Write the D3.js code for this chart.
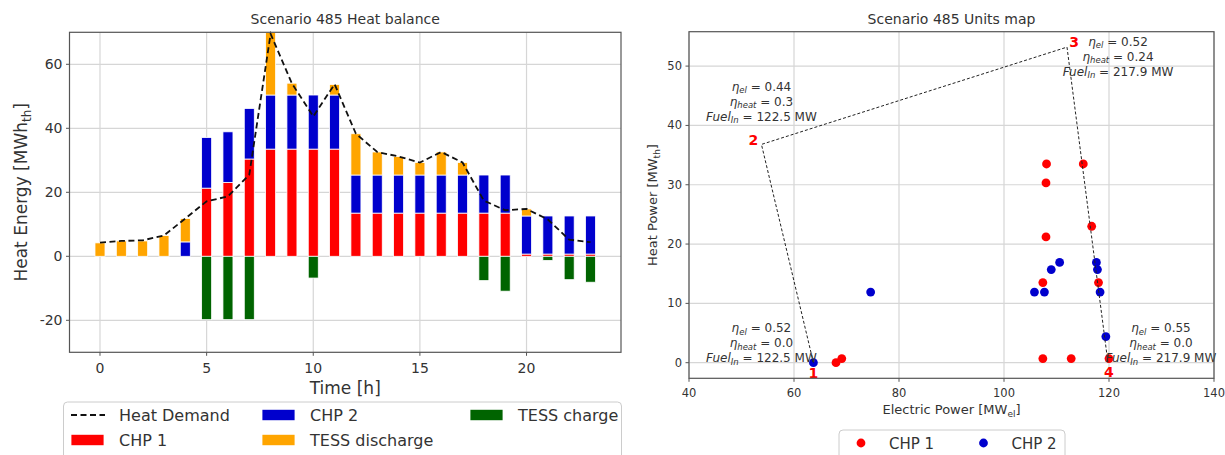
<!DOCTYPE html>
<html lang="en">
<head>
<meta charset="UTF-8">
<title>Scenario 485</title>
<script src="https://d3js.org/d3.v7.min.js"></script>
<style>
  body { margin: 0; background: #fff; }
  text { font-family: "DejaVu Sans", sans-serif; fill: #333; }
</style>
</head>
<body>
<svg id="chart" width="1225" height="455"></svg>
<script>
// ---- heat balance data (MWh_th per hour) ----
const hours = d3.range(24);
const chp1 = [0, 0, 0, 0, 0, 21.3, 23.1, 30.4, 33.5, 33.5, 33.5, 33.5,
              13.5, 13.5, 13.5, 13.5, 13.5, 13.5, 13.5, 13.5, 0.7, 0.7, 0.7, 0.7];
const chp2 = [0, 0, 0, 0, 4.5, 15.8, 15.8, 15.8, 16.9, 16.9, 16.9, 16.9,
              11.9, 11.9, 11.9, 11.9, 11.9, 11.9, 11.9, 11.9, 11.9, 11.9, 11.9, 11.9];
const tessDischarge = [4.2, 4.8, 4.8, 6.5, 7.3, 0, 0, 0, 19.6, 3.7, 0, 3.3,
                       12.9, 7.2, 5.8, 3.9, 7.2, 3.9, 0, 0, 2.2, 0, 0, 0];
const tessCharge = [0, 0, 0, 0, 0, -19.8, -19.8, -19.8, 0, 0, -6.8, 0,
                    0, 0, 0, 0, 0, 0, -7.6, -10.9, 0, -1.3, -7.3, -8.1];
const heatDemand = [4.3, 4.8, 5.0, 6.5, 11.8, 17.2, 18.7, 25.5, 69.5, 54.0, 43.7, 53.8,
                    38.3, 32.6, 31.2, 29.3, 32.6, 29.3, 17.4, 14.4, 14.8, 11.5, 5.2, 4.4];
const leftXTicks = [0, 5, 10, 15, 20];
const leftYTicks = [-20, 0, 20, 40, 60];

// ---- units map data ----
const chp1El   = [108.1, 115.1, 108.0, 116.7, 108.0, 107.4, 118.0, 107.4, 112.8, 120.0, 68.0, 69.1];
const chp1Heat = [33.5, 33.5, 30.3, 23.0, 21.2, 13.5, 13.5, 0.7, 0.7, 0.7, 0.0, 0.7];
const chp2El   = [63.7, 74.6, 105.8, 107.7, 118.3, 109.0, 110.6, 117.6, 117.8, 119.4];
const chp2Heat = [0.0, 11.9, 11.9, 11.9, 11.9, 15.7, 16.9, 16.9, 15.7, 4.4];
const cornerEl   = [63.7, 53.8, 112.0, 119.8];
const cornerHeat = [0.0, 36.8, 53.2, 0.0];
const cornerEtaEl   = ["0.52", "0.44", "0.52", "0.55"];
const cornerEtaHeat = ["0.0", "0.3", "0.24", "0.0"];
const cornerFuel    = ["122.5", "122.5", "217.9", "217.9"];
const rightXTicks = [40, 60, 80, 100, 120, 140];
const rightYTicks = [0, 10, 20, 30, 40, 50];

const colors = { chp1: "#ff0000", chp2: "#0000cd", dis: "#ffa500", chg: "#006400" };
const gridColor = "#d6d6d6";
const spineColor = "#555";

const svg = d3.select("#chart");

// ======================= left: heat balance =======================
const L = { left: 69.5, right: 621, top: 32.3, bottom: 352.3 };
const x = d3.scaleLinear().domain([-1.43, 24.43]).range([L.left, L.right]);
const y = d3.scaleLinear().domain([-30, 70]).range([L.bottom, L.top]);
const bw = x(0.47) - x(0);

const lg = svg.append("g");

lg.selectAll(".vg").data(leftXTicks).enter().append("line")
    .attr("x1", d => x(d)).attr("x2", d => x(d))
    .attr("y1", L.top).attr("y2", L.bottom)
    .attr("stroke", gridColor).attr("stroke-width", 1.2);
lg.selectAll(".hg").data(leftYTicks).enter().append("line")
    .attr("x1", L.left).attr("x2", L.right)
    .attr("y1", d => y(d)).attr("y2", d => y(d))
    .attr("stroke", gridColor).attr("stroke-width", 1.2);

// stacked bars
const stacks = [
    { vals: chp1, base: hours.map(() => 0), color: colors.chp1 },
    { vals: chp2, base: chp1, color: colors.chp2 },
    { vals: tessDischarge, base: hours.map(i => chp1[i] + chp2[i]), color: colors.dis },
    { vals: tessCharge, base: hours.map(() => 0), color: colors.chg }
];
stacks.forEach(s => {
    lg.append("g").selectAll("rect")
        .data(hours.filter(i => s.vals[i] !== 0))
        .enter().append("rect")
        .attr("x", i => x(i) - bw / 2)
        .attr("width", bw)
        .attr("y", i => y(Math.max(s.base[i], s.base[i] + s.vals[i])))
        .attr("height", i => Math.abs(y(s.base[i]) - y(s.base[i] + s.vals[i])))
        .attr("fill", s.color)
        .attr("stroke", "#fff")
        .attr("stroke-width", 0.8);
});

// heat demand
lg.append("path")
    .datum(hours)
    .attr("fill", "none")
    .attr("stroke", "#111")
    .attr("stroke-width", 1.8)
    .attr("stroke-dasharray", "6,3.5")
    .attr("d", d3.line().x(i => x(i)).y(i => y(heatDemand[i])));

// frame and ticks
lg.append("rect")
    .attr("x", L.left).attr("y", L.top)
    .attr("width", L.right - L.left).attr("height", L.bottom - L.top)
    .attr("fill", "none").attr("stroke", spineColor).attr("stroke-width", 1.2);
lg.selectAll(".yt").data(leftYTicks).enter().append("line")
    .attr("x1", L.left - 3.5).attr("x2", L.left)
    .attr("y1", d => y(d)).attr("y2", d => y(d))
    .attr("stroke", spineColor);
lg.selectAll(".ytl").data(leftYTicks).enter().append("text")
    .attr("x", L.left - 7).attr("y", d => y(d) + 5)
    .attr("text-anchor", "end").attr("font-size", 14)
    .text(d => d);
lg.selectAll(".xt").data(leftXTicks).enter().append("line")
    .attr("x1", d => x(d)).attr("x2", d => x(d))
    .attr("y1", L.bottom).attr("y2", L.bottom + 3.5)
    .attr("stroke", spineColor);
lg.selectAll(".xtl").data(leftXTicks).enter().append("text")
    .attr("x", d => x(d)).attr("y", L.bottom + 21)
    .attr("text-anchor", "middle").attr("font-size", 14)
    .text(d => d);

lg.append("text")
    .attr("x", (L.left + L.right) / 2).attr("y", 24)
    .attr("text-anchor", "middle").attr("font-size", 14)
    .text("Scenario 485 Heat balance");
lg.append("text")
    .attr("x", (L.left + L.right) / 2).attr("y", 394)
    .attr("text-anchor", "middle").attr("font-size", 17)
    .text("Time [h]");
const yl = lg.append("text")
    .attr("transform", `translate(27,${(L.top + L.bottom) / 2}) rotate(-90)`)
    .attr("text-anchor", "middle").attr("font-size", 17);
yl.append("tspan").text("Heat Energy [MWh");
yl.append("tspan").attr("font-size", 12).attr("dy", 4).text("th");
yl.append("tspan").attr("dy", -4).text("]");

// legend
const leg = lg.append("g");
leg.append("rect")
    .attr("x", 63.5).attr("y", 402).attr("width", 558).attr("height", 70)
    .attr("rx", 4).attr("fill", "#fff").attr("stroke", "#ccc");
const legItems = [
    { label: "Heat Demand", type: "line", col: 0, row: 0 },
    { label: "CHP 1", color: colors.chp1, col: 0, row: 1 },
    { label: "CHP 2", color: colors.chp2, col: 1, row: 0 },
    { label: "TESS discharge", color: colors.dis, col: 1, row: 1 },
    { label: "TESS charge", color: colors.chg, col: 2, row: 0 }
];
const colX = [71, 262, 470];
const rowY = [415, 440];
legItems.forEach(it => {
    const hx = colX[it.col], hy = rowY[it.row];
    if (it.type === "line") {
        leg.append("line")
            .attr("x1", hx).attr("x2", hx + 34).attr("y1", hy).attr("y2", hy)
            .attr("stroke", "#111").attr("stroke-width", 1.8)
            .attr("stroke-dasharray", "6,3.5");
    } else {
        leg.append("rect")
            .attr("x", hx).attr("y", hy - 5.7).attr("width", 33).attr("height", 11.4)
            .attr("fill", it.color).attr("stroke", "#fff").attr("stroke-width", 0.8);
    }
    leg.append("text")
        .attr("x", hx + 48).attr("y", hy + 6)
        .attr("font-size", 16)
        .text(it.label);
});

// ======================= right: units map =======================
const R = { left: 689, right: 1214, top: 31.7, bottom: 378.3 };
const xr = d3.scaleLinear().domain([40, 140]).range([R.left, R.right]);
const yr = d3.scaleLinear().domain([-2.63, 55.8]).range([R.bottom, R.top]);

const rg = svg.append("g");
rg.selectAll(".vg").data(rightXTicks).enter().append("line")
    .attr("x1", d => xr(d)).attr("x2", d => xr(d))
    .attr("y1", R.top).attr("y2", R.bottom)
    .attr("stroke", gridColor).attr("stroke-width", 1.2);
rg.selectAll(".hg").data(rightYTicks).enter().append("line")
    .attr("x1", R.left).attr("x2", R.right)
    .attr("y1", d => yr(d)).attr("y2", d => yr(d))
    .attr("stroke", gridColor).attr("stroke-width", 1.2);

rg.append("g").selectAll("circle")
    .data(d3.range(chp1El.length)).enter().append("circle")
    .attr("cx", i => xr(chp1El[i])).attr("cy", i => yr(chp1Heat[i]))
    .attr("r", 4.4).attr("fill", colors.chp1);
rg.append("g").selectAll("circle")
    .data(d3.range(chp2El.length)).enter().append("circle")
    .attr("cx", i => xr(chp2El[i])).attr("cy", i => yr(chp2Heat[i]))
    .attr("r", 4.4).attr("fill", colors.chp2);

// operating region
rg.append("path")
    .datum(d3.range(cornerEl.length))
    .attr("fill", "none").attr("stroke", "#222").attr("stroke-width", 1)
    .attr("stroke-dasharray", "3,2")
    .attr("d", d3.line().x(i => xr(cornerEl[i])).y(i => yr(cornerHeat[i])));

// corner numbers and annotations (offsets in px)
const numOff = [[0, 10], [-8, -4], [7, -5], [1, 9]];
const annOff = [[-52, -35], [0, -58], [51, -6], [53, -35]];
function mathLine(g, cx, cy, sym, sub, rest) {
    const t = g.append("text").attr("x", cx).attr("y", cy + 4.5)
        .attr("text-anchor", "middle").attr("font-size", 12);
    t.append("tspan").attr("font-style", "italic").text(sym);
    t.append("tspan").attr("font-style", "italic").attr("font-size", 8.5).attr("dy", 2.5).text(sub);
    t.append("tspan").attr("dy", -2.5).text(" = " + rest);
}
cornerEl.forEach((e, i) => {
    const px = xr(e), py = yr(cornerHeat[i]);
    rg.append("text")
        .attr("x", px + numOff[i][0]).attr("y", py + numOff[i][1] + 5)
        .attr("text-anchor", "middle").attr("font-size", 14).attr("font-weight", "bold")
        .style("fill", "#ff0000")
        .text(i + 1);
    const ax = px + annOff[i][0], ay = py + annOff[i][1];
    mathLine(rg, ax, ay, "η", "el", cornerEtaEl[i]);
    mathLine(rg, ax, ay + 15, "η", "heat", cornerEtaHeat[i]);
    mathLine(rg, ax, ay + 30, "Fuel", "In", cornerFuel[i] + " MW");
});

rg.append("rect")
    .attr("x", R.left).attr("y", R.top)
    .attr("width", R.right - R.left).attr("height", R.bottom - R.top)
    .attr("fill", "none").attr("stroke", spineColor).attr("stroke-width", 1.2);
rg.selectAll(".yt").data(rightYTicks).enter().append("line")
    .attr("x1", R.left - 3.5).attr("x2", R.left)
    .attr("y1", d => yr(d)).attr("y2", d => yr(d))
    .attr("stroke", spineColor);
rg.selectAll(".ytl").data(rightYTicks).enter().append("text")
    .attr("x", R.left - 7).attr("y", d => yr(d) + 4)
    .attr("text-anchor", "end").attr("font-size", 11.5)
    .text(d => d);
rg.selectAll(".xt").data(rightXTicks).enter().append("line")
    .attr("x1", d => xr(d)).attr("x2", d => xr(d))
    .attr("y1", R.bottom).attr("y2", R.bottom + 3.5)
    .attr("stroke", spineColor);
rg.selectAll(".xtl").data(rightXTicks).enter().append("text")
    .attr("x", d => xr(d)).attr("y", R.bottom + 19)
    .attr("text-anchor", "middle").attr("font-size", 11.5)
    .text(d => d);

rg.append("text")
    .attr("x", (R.left + R.right) / 2).attr("y", 24)
    .attr("text-anchor", "middle").attr("font-size", 14)
    .text("Scenario 485 Units map");
const xl2 = rg.append("text")
    .attr("x", (R.left + R.right) / 2).attr("y", 414)
    .attr("text-anchor", "middle").attr("font-size", 13);
xl2.append("tspan").text("Electric Power [MW");
xl2.append("tspan").attr("font-size", 9).attr("dy", 3).text("el");
xl2.append("tspan").attr("dy", -3).text("]");
const yl2 = rg.append("text")
    .attr("transform", `translate(657,${(R.top + R.bottom) / 2}) rotate(-90)`)
    .attr("text-anchor", "middle").attr("font-size", 13);
yl2.append("tspan").text("Heat Power [MW");
yl2.append("tspan").attr("font-size", 9).attr("dy", 3).text("th");
yl2.append("tspan").attr("dy", -3).text("]");

// legend
const leg2 = rg.append("g");
leg2.append("rect")
    .attr("x", 839).attr("y", 430).attr("width", 226).attr("height", 40)
    .attr("rx", 4).attr("fill", "#fff").attr("stroke", "#ccc");
[{ label: "CHP 1", color: colors.chp1, cx: 861 }, { label: "CHP 2", color: colors.chp2, cx: 983.5 }]
    .forEach(it => {
        leg2.append("circle").attr("cx", it.cx).attr("cy", 443).attr("r", 4.4).attr("fill", it.color);
        leg2.append("text").attr("x", it.cx + 28).attr("y", 449)
            .attr("font-size", 15).text(it.label);
    });
</script>
</body>
</html>
